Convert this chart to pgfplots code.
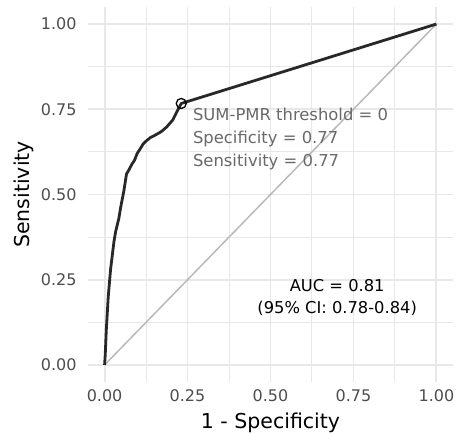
\documentclass[border=0pt]{standalone}
\usepackage{fontspec}
\setmainfont{DejaVu Sans}
\usepackage{pgfplots}
\pgfplotsset{compat=1.18}
\definecolor{gridGray}{RGB}{232,232,232}
\definecolor{tickGray}{RGB}{77,77,77}
\definecolor{rocDark}{RGB}{40,40,40}
\definecolor{diagGray}{RGB}{185,185,185}
\definecolor{noteGray}{RGB}{105,105,105}

\begin{document}
\begin{tikzpicture}
\begin{axis}[
    scale only axis,
    width=365bp, height=375bp,
    xmin=-0.05, xmax=1.05, ymin=-0.05, ymax=1.05,
    xtick={0,0.25,0.5,0.75,1}, ytick={0,0.25,0.5,0.75,1},
    minor tick num=1,
    grid=both,
    major grid style={draw=gridGray, line width=1.9bp},
    minor grid style={draw=gridGray, line width=1bp},
    axis line style={draw=none},
    tick style={draw=none},
    /pgf/number format/assume math mode=true,
    /pgf/number format/.cd, fixed, fixed zerofill, precision=2, /pgfplots/.cd,
    ticklabel style={font=\fontsize{16bp}{19bp}\selectfont, text=tickGray, inner sep=0pt},
    xticklabel style={anchor=base, yshift=-19.7bp},
    yticklabel style={anchor=east, xshift=-11.3bp},
    xlabel={1 - Specificity},
    ylabel={Sensitivity},
    label style={font=\fontsize{20.5bp}{24bp}\selectfont, inner sep=0pt},
    xlabel style={at={(axis description cs:0.5,-0.1235)}, anchor=base},
    ylabel style={at={(axis description cs:-0.159,0.5)}, anchor=base, rotate=0},
    clip=false,
]
\coordinate (sw) at (rel axis cs:0,0);
% chance line
\addplot[diagGray, line width=1.5bp] coordinates {(0,0) (1,1)};
% ROC curve
\addplot[rocDark, line width=2.8bp, line join=round] coordinates {
(0,0) (0.002,0.03) (0.005,0.10) (0.011,0.20) (0.018,0.28) (0.028,0.36)
(0.033,0.39) (0.038,0.41) (0.043,0.43) (0.048,0.46) (0.058,0.51)
(0.066,0.56) (0.072,0.57) (0.083,0.59) (0.090,0.60) (0.098,0.62)
(0.108,0.635) (0.116,0.648) (0.123,0.655) (0.138,0.667) (0.148,0.672)
(0.158,0.677) (0.173,0.686) (0.188,0.699) (0.205,0.718) (0.218,0.743)
(0.231,0.767) (1,1)};
% threshold point
\addplot[only marks, mark=o, mark size=5bp, mark options={black, line width=1.3bp}]
    coordinates {(0.231,0.767)};
\node[anchor=base west, inner sep=0pt, text=noteGray, font=\fontsize{16.4bp}{19bp}\selectfont]
    at (axis cs:0.266,0.718) {SUM-PMR threshold = 0};
\node[anchor=base west, inner sep=0pt, text=noteGray, font=\fontsize{16.4bp}{19bp}\selectfont]
    at (axis cs:0.266,0.650) {Specificity = 0.77};
\node[anchor=base west, inner sep=0pt, text=noteGray, font=\fontsize{16.4bp}{19bp}\selectfont]
    at (axis cs:0.266,0.582) {Sensitivity = 0.77};
\node[anchor=base, inner sep=0pt, font=\fontsize{16.3bp}{19bp}\selectfont]
    at (axis cs:0.701,0.215) {AUC = 0.81};
\node[anchor=base, inner sep=0pt, font=\fontsize{16.3bp}{19bp}\selectfont]
    at (axis cs:0.701,0.150) {(95\% CI: 0.78-0.84)};
\end{axis}
\pgfresetboundingbox
\path (sw) ++(-88bp,-51bp) rectangle ++(457bp,433bp);
\end{tikzpicture}
\end{document}
